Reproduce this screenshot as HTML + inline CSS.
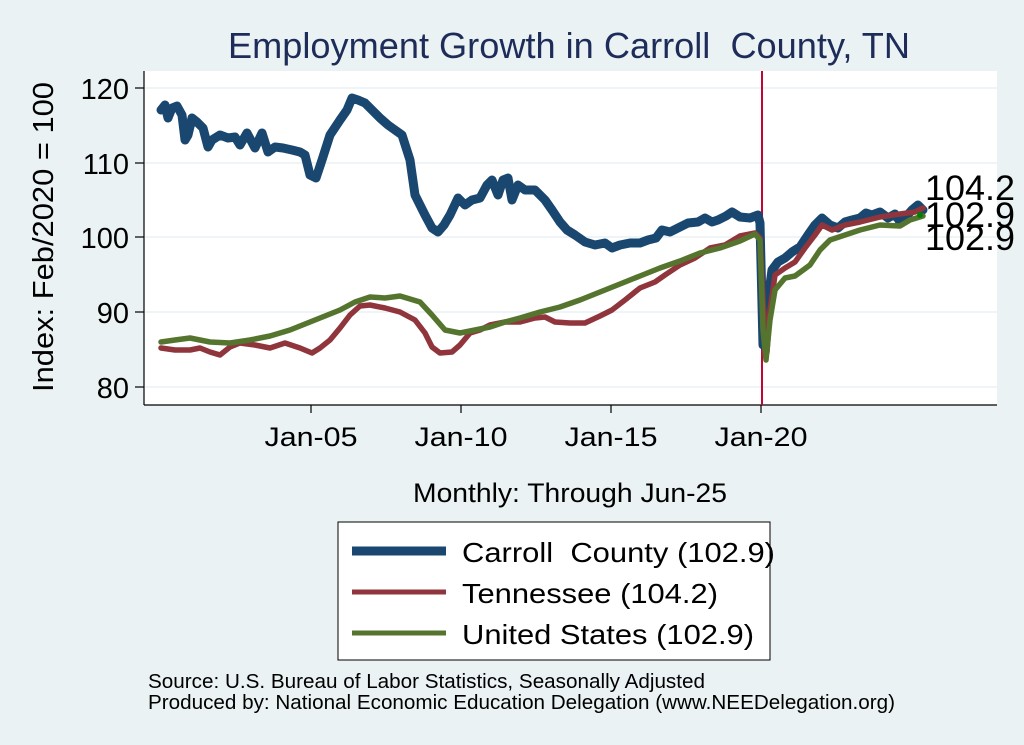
<!DOCTYPE html>
<html><head><style>
html,body{margin:0;padding:0;background:#eaf2f3;}
svg{display:block;font-family:"Liberation Sans",Arial,sans-serif;}
</style></head><body>
<svg width="1024" height="745" viewBox="0 0 1024 745" xmlns="http://www.w3.org/2000/svg">
<rect width="1024" height="745" fill="#eaf2f3"/>
<rect x="144" y="71" width="853" height="334" fill="#fff"/>
<g stroke="#eaf2f3" stroke-width="1.5">
<line x1="145" x2="997" y1="88" y2="88"/><line x1="145" x2="997" y1="163" y2="163"/>
<line x1="145" x2="997" y1="237" y2="237"/><line x1="145" x2="997" y1="312" y2="312"/>
<line x1="145" x2="997" y1="387" y2="387"/>
</g>
<text x="569" y="58" font-size="36" fill="#1e2c5a" text-anchor="middle" textLength="682" lengthAdjust="spacingAndGlyphs">Employment Growth in Carroll&#160; County, TN</text>
<g stroke="#000" stroke-width="1.2">
<line x1="144" y1="71" x2="144" y2="405"/><line x1="144" y1="405" x2="997" y2="405"/>
<line x1="135" x2="144" y1="88" y2="88"/><line x1="135" x2="144" y1="163" y2="163"/><line x1="135" x2="144" y1="237" y2="237"/><line x1="135" x2="144" y1="312" y2="312"/><line x1="135" x2="144" y1="387" y2="387"/>
<line x1="311" x2="311" y1="405" y2="413"/><line x1="461" x2="461" y1="405" y2="413"/><line x1="611" x2="611" y1="405" y2="413"/><line x1="761" x2="761" y1="405" y2="413"/>
</g>
<g font-size="29" text-anchor="end">
<text x="129" y="99">120</text><text x="129" y="174">110</text><text x="129" y="248">100</text><text x="129" y="323">90</text><text x="129" y="398">80</text>
</g>
<text transform="translate(53,237) rotate(-90)" font-size="29" text-anchor="middle" textLength="310" lengthAdjust="spacingAndGlyphs">Index: Feb/2020 = 100</text>
<g font-size="27" text-anchor="middle">
<text x="311" y="446" textLength="93" lengthAdjust="spacingAndGlyphs">Jan-05</text><text x="461" y="446" textLength="93" lengthAdjust="spacingAndGlyphs">Jan-10</text><text x="611" y="446" textLength="93" lengthAdjust="spacingAndGlyphs">Jan-15</text><text x="761" y="446" textLength="93" lengthAdjust="spacingAndGlyphs">Jan-20</text>
<text x="570" y="502" textLength="314" lengthAdjust="spacingAndGlyphs">Monthly: Through Jun-25</text>
</g>
<line x1="762" y1="71" x2="762" y2="405" stroke="#c10534" stroke-width="2"/>
<g fill="none" stroke-linejoin="round" stroke-linecap="round">
<polyline stroke="#1a476f" stroke-width="9" points="161,110 165,105 168,118 172,108 177,106 182,115 185,140 188,135 192,118 197,122 203,128 208,147 212,140 220,135 228,138 235,137 240,145 247,133 255,148 262,133 268,152 275,147 283,148 292,150 300,152 305,155 310,175 316,178 322,160 330,135 340,120 347,110 352,98 358,100 365,103 372,110 380,118 388,125 395,130 402,135 410,160 415,195 420,205 425,215 432,228 438,232 444,225 450,215 458,198 465,205 472,200 480,198 487,185 492,180 498,195 503,180 508,178 512,200 518,185 525,190 535,190 545,200 552,210 560,222 567,230 575,235 585,242 595,245 605,243 612,248 620,245 630,243 640,243 648,240 656,238 662,230 670,232 678,228 688,223 698,222 705,218 712,222 718,220 726,216 732,212 740,217 750,218 758,215 760,223 763,345 765,330 768,300 772,270 778,262 785,258 792,252 800,247 808,235 815,225 822,218 830,225 838,228 845,222 852,220 860,218 866,213 872,215 880,212 888,218 895,214 900,222 905,218 912,210 918,205 923,210"/>
<polyline stroke="#90353b" stroke-width="5.5" points="161,348 175,350 190,350 200,348 210,352 220,355 230,347 240,343 255,345 270,348 285,343 300,348 312,353 320,348 330,340 340,328 350,315 360,306 370,305 385,308 400,312 415,320 425,333 432,347 440,353 452,352 460,345 470,333 480,330 490,325 505,322 520,322 535,318 545,317 555,322 570,323 585,323 600,316 612,310 625,300 640,288 655,282 665,275 680,265 695,258 710,248 725,245 740,236 755,233 760,238 763,300 767,352 770,310 775,275 785,268 795,262 805,248 815,235 822,225 832,230 845,225 860,222 880,217 900,214 915,212 923,208"/>
<polyline stroke="#55752f" stroke-width="5.5" points="161,342 175,340 190,338 210,342 230,343 250,340 270,336 290,330 310,322 325,316 340,310 355,302 370,297 385,298 400,296 420,302 432,315 445,330 460,333 475,330 490,327 505,322 520,318 540,312 560,307 580,300 600,292 620,284 640,276 660,268 680,261 700,253 720,248 740,241 755,234 760,240 763,330 766,360 770,320 775,290 785,278 795,276 810,265 820,250 830,240 845,235 860,230 880,225 900,226 910,220 923,216"/>
</g>
<circle cx="920" cy="215" r="3" fill="#008000"/>
<g font-size="35" fill="#000">
<text x="925" y="200" textLength="90" lengthAdjust="spacingAndGlyphs">104.2</text><text x="925" y="227" textLength="90" lengthAdjust="spacingAndGlyphs">102.9</text><text x="925" y="250" textLength="90" lengthAdjust="spacingAndGlyphs">102.9</text>
</g>
<rect x="338" y="522" width="432" height="138" fill="#fff" stroke="#000" stroke-width="1"/>
<line x1="352" y1="551" x2="446" y2="551" stroke="#1a476f" stroke-width="9"/>
<line x1="352" y1="592" x2="446" y2="592" stroke="#90353b" stroke-width="5"/>
<line x1="352" y1="633" x2="446" y2="633" stroke="#55752f" stroke-width="5"/>
<g font-size="28">
<text x="462" y="562" textLength="313" lengthAdjust="spacingAndGlyphs">Carroll&#160; County (102.9)</text>
<text x="462" y="603" textLength="256" lengthAdjust="spacingAndGlyphs">Tennessee (104.2)</text>
<text x="462" y="644" textLength="292" lengthAdjust="spacingAndGlyphs">United States (102.9)</text>
</g>
<g font-size="20">
<text x="148" y="688" textLength="557" lengthAdjust="spacingAndGlyphs">Source: U.S. Bureau of Labor Statistics, Seasonally Adjusted</text>
<text x="148" y="709" textLength="747" lengthAdjust="spacingAndGlyphs">Produced by: National Economic Education Delegation (www.NEEDelegation.org)</text>
</g>
</svg>
</body></html>
